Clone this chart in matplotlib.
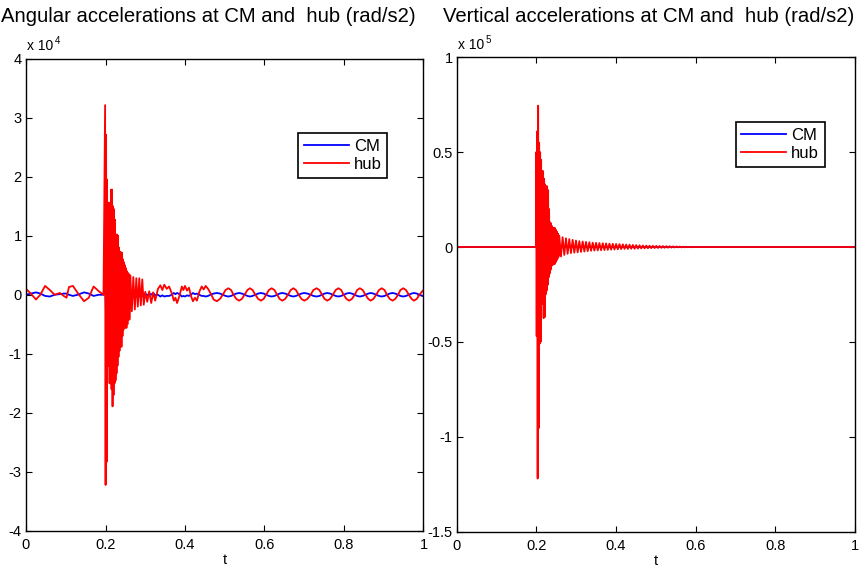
import matplotlib
matplotlib.use('Agg')
import matplotlib.pyplot as plt

plt.rcParams['font.family'] = ['Liberation Sans', 'DejaVu Sans']

# ======================= DATA =======================
# Left panel: angular accelerations (values in units of 1e4 rad/s2)
ang_pre_t = [0.0, 0.012, 0.025, 0.036, 0.048, 0.060, 0.072, 0.085, 0.095, 0.102,
             0.108, 0.118, 0.130, 0.146, 0.158, 0.170, 0.183, 0.195]
ang_pre_hub = [0.10, 0.02, -0.08, 0.00, 0.15, 0.08, 0.00, 0.03, -0.02, -0.05,
               0.13, 0.15, 0.03, -0.11, -0.05, 0.14, 0.06, 0.00]
ang_pre_cm = [0.00, 0.02, 0.04, 0.02, -0.02, -0.03, 0.00, 0.01, 0.02, 0.02,
              0.00, -0.02, 0.00, 0.04, 0.02, -0.02, 0.00, 0.00]

# dense impact burst of the hub signal (upper / lower swing per step)
ang_burst_t0 = 0.199
ang_burst_dt = 0.0025
ang_burst_hub_up = [3.21, 2.71, 1.95, 1.56, 1.56, 1.55, 1.78, 1.78, 1.50, 1.45,
                    1.27, 1.02, 1.02, 1.00, 0.80, 0.73, 0.72, 0.71, 0.60, 0.55,
                    0.50, 0.45, 0.40, 0.37, 0.35]
ang_burst_hub_lo = [-3.22, -2.83, -1.16, -1.20, -1.50, -1.50, -1.60, -1.89, -1.70, -1.50,
                    -1.45, -1.33, -1.20, -1.05, -0.95, -0.88, -0.88, -0.70, -0.59, -0.55,
                    -0.56, -0.56, -0.50, -0.42, -0.42]
ang_rip_t0 = 0.2625
ang_rip_dt = 0.0075
ang_rip_hub_up = [0.33, 0.30, 0.28, 0.28, 0.26]
ang_rip_hub_lo = [-0.28, -0.25, -0.20, -0.18, -0.17]

ang_burst_cm_t0 = 0.199
ang_burst_cm_dt = 0.005
ang_burst_cm_up = [0.25, 0.12, 0.10, 0.09, 0.08, 0.07, 0.06, 0.06, 0.05, 0.05,
                   0.05, 0.04, 0.04, 0.04, 0.04, 0.03, 0.03, 0.03, 0.03, 0.03]
ang_burst_cm_lo = [-0.40, -0.15, -0.12, -0.10, -0.09, -0.08, -0.07, -0.06, -0.06, -0.05,
                   -0.05, -0.05, -0.04, -0.04, -0.04, -0.04, -0.03, -0.03, -0.03, -0.03]

ang_post_t = [0.300, 0.305, 0.310, 0.315, 0.320, 0.325, 0.332, 0.338, 0.343, 0.348,
              0.354, 0.360, 0.367, 0.372, 0.376, 0.380, 0.386, 0.392, 0.396, 0.400,
              0.405, 0.410, 0.415, 0.420, 0.425, 0.430, 0.436, 0.442, 0.447, 0.452,
              0.458, 0.464, 0.472, 0.480, 0.488, 0.495, 0.502, 0.509, 0.516, 0.522,
              0.529, 0.536, 0.543, 0.550, 0.557, 0.5635, 0.570, 0.577, 0.584, 0.591,
              0.598, 0.604, 0.611, 0.618, 0.625, 0.632, 0.638, 0.645, 0.652, 0.659,
              0.666, 0.6725, 0.679, 0.686, 0.693, 0.700, 0.708, 0.716, 0.723, 0.731,
              0.738, 0.745, 0.751, 0.758, 0.765, 0.772, 0.779, 0.786, 0.793, 0.799,
              0.806, 0.813, 0.820, 0.827, 0.833, 0.840, 0.847, 0.854, 0.861, 0.867,
              0.874, 0.881, 0.888, 0.895, 0.902, 0.908, 0.915, 0.922, 0.929, 0.936,
              0.942, 0.949, 0.956, 0.963, 0.970, 0.976, 0.983, 0.990, 0.997, 1.000]
ang_post_hub = [0.05, -0.12, 0.06, -0.14, 0.04, -0.10, 0.10, 0.16, 0.08, 0.17,
                0.10, 0.14, 0.02, -0.10, -0.05, -0.14, -0.02, 0.14, 0.08, 0.15,
                0.07, 0.12, -0.02, -0.11, -0.05, -0.10, 0.05, 0.14, 0.09, 0.15,
                0.10, 0.03, -0.08, -0.11, -0.07, 0.00, 0.08, 0.11, 0.08, 0.00,
                -0.07, -0.10, -0.07, 0.00, 0.08, 0.11, 0.08, 0.00, -0.07, -0.10,
                -0.07, 0.00, 0.08, 0.11, 0.08, 0.00, -0.07, -0.10, -0.07, 0.00,
                0.08, 0.11, 0.08, 0.00, -0.07, -0.10, -0.07, 0.00, 0.08, 0.11,
                0.08, 0.00, -0.07, -0.10, -0.07, 0.00, 0.08, 0.11, 0.08, 0.00,
                -0.07, -0.10, -0.07, 0.00, 0.08, 0.11, 0.08, 0.00, -0.07, -0.10,
                -0.07, 0.00, 0.08, 0.11, 0.08, 0.00, -0.07, -0.10, -0.07, 0.00,
                0.08, 0.11, 0.08, 0.00, -0.07, -0.10, -0.07, 0.00, 0.06, 0.08]
ang_post_cm = [0.02, -0.01, 0.02, 0.00, 0.03, -0.01, 0.00, -0.03, -0.01, -0.03,
               -0.02, -0.02, 0.00, 0.03, 0.01, 0.03, 0.01, -0.03, -0.02, -0.03,
               -0.01, -0.02, 0.00, 0.03, 0.01, 0.02, 0.00, -0.02, -0.02, -0.03,
               -0.02, 0.00, 0.02, 0.03, 0.02, 0.00, -0.02, -0.03, -0.02, 0.00,
               0.02, 0.03, 0.02, 0.00, -0.02, -0.03, -0.02, 0.00, 0.02, 0.03,
               0.02, 0.00, -0.02, -0.03, -0.02, 0.00, 0.02, 0.03, 0.02, 0.00,
               -0.02, -0.03, -0.02, 0.00, 0.02, 0.03, 0.02, 0.00, -0.02, -0.03,
               -0.02, 0.00, 0.02, 0.03, 0.02, 0.00, -0.02, -0.03, -0.02, 0.00,
               0.02, 0.03, 0.02, 0.00, -0.02, -0.03, -0.02, 0.00, 0.02, 0.03,
               0.02, 0.00, -0.02, -0.03, -0.02, 0.00, 0.02, 0.03, 0.02, 0.00,
               -0.02, -0.03, -0.02, 0.00, 0.02, 0.03, 0.02, 0.00, -0.02, -0.02]

# Right panel: vertical accelerations (values in units of 1e5)
ver_cm_t = [0.0, 1.0]
ver_cm = [0.0, 0.0]
ver_pre_t = [0.0, 0.199]
ver_pre_hub = [0.0, 0.0]
ver_burst_t0 = 0.1995
ver_burst_dt = 0.0025
ver_burst_hub_up = [0.50, 0.61, 0.745, 0.55, 0.50, 0.46, 0.40, 0.40, 0.36, 0.33,
                    0.32, 0.32, 0.30, 0.20, 0.13, 0.125, 0.11, 0.10, 0.10, 0.10,
                    0.09, 0.08, 0.07]
ver_burst_hub_lo = [-0.47, -1.22, -0.955, -0.51, -0.50, -0.26, -0.30, -0.375, -0.37, -0.25,
                    -0.23, -0.20, -0.16, -0.14, -0.12, -0.10, -0.095, -0.09, -0.09, -0.08,
                    -0.07, -0.06, -0.05]
ver_rip_t0 = 0.2575
ver_rip_dt = 0.0084
ver_rip_hub_up = [0.060, 0.052, 0.046, 0.042, 0.038, 0.034, 0.031, 0.029, 0.027, 0.025,
                  0.023, 0.022, 0.021, 0.020, 0.019, 0.018, 0.017, 0.016, 0.015, 0.014,
                  0.013, 0.012, 0.011, 0.010, 0.009, 0.008, 0.0075, 0.007, 0.0065, 0.006,
                  0.0055, 0.005, 0.0045, 0.004, 0.0035, 0.003, 0.0025, 0.002, 0.0015, 0.001]
ver_rip_hub_lo = [-0.050, -0.042, -0.036, -0.032, -0.030, -0.028, -0.026, -0.024, -0.022, -0.020,
                  -0.019, -0.018, -0.017, -0.016, -0.015, -0.014, -0.013, -0.012, -0.011, -0.010,
                  -0.010, -0.009, -0.009, -0.008, -0.0075, -0.007, -0.0065, -0.006, -0.0055, -0.005,
                  -0.0045, -0.004, -0.0035, -0.003, -0.0025, -0.002, -0.002, -0.0015, -0.001, -0.001]
ver_post_t = [0.595, 1.0]
ver_post_hub = [0.0, 0.0]

# labels
titles = ['Angular accelerations at CM and  hub (rad/s2)',
          'Vertical accelerations at CM and  hub (rad/s2)']
legend_labels = ['CM', 'hub']
x_ticks = [0, 0.2, 0.4, 0.6, 0.8, 1]
x_ticklabels = ['0', '0.2', '0.4', '0.6', '0.8', '1']
ang_yticks = [-4, -3, -2, -1, 0, 1, 2, 3, 4]
ang_yticklabels = ['-4', '-3', '-2', '-1', '0', '1', '2', '3', '4']
ver_yticks = [-1.5, -1, -0.5, 0, 0.5, 1]
ver_yticklabels = ['-1.5', '-1', '-0.5', '0', '0.5', '1']
exponents = ['4', '5']


def interleave(t0, dt, up, lo):
    t, v = [], []
    for i, (u, l) in enumerate(zip(up, lo)):
        t += [t0 + i * dt, t0 + (i + 0.5) * dt]
        v += [u, l]
    return t, v


# assemble series
bt, bv = interleave(ang_burst_t0, ang_burst_dt, ang_burst_hub_up, ang_burst_hub_lo)
rt, rv = interleave(ang_rip_t0, ang_rip_dt, ang_rip_hub_up, ang_rip_hub_lo)
ang_hub_t = ang_pre_t + bt + rt + ang_post_t
ang_hub_v = ang_pre_hub + bv + rv + ang_post_hub
ct, cv = interleave(ang_burst_cm_t0, ang_burst_cm_dt, ang_burst_cm_up, ang_burst_cm_lo)
ang_cm_t = ang_pre_t + ct + ang_post_t
ang_cm_v = ang_pre_cm + cv + ang_post_cm

vbt, vbv = interleave(ver_burst_t0, ver_burst_dt, ver_burst_hub_up, ver_burst_hub_lo)
vrt, vrv = interleave(ver_rip_t0, ver_rip_dt, ver_rip_hub_up, ver_rip_hub_lo)
ver_hub_t = ver_pre_t + vbt + vrt + ver_post_t
ver_hub_v = ver_pre_hub + vbv + vrv + ver_post_hub

# ======================= FIGURE =======================
W, H = 867, 569
fig = plt.figure(figsize=(W / 100, H / 100), dpi=100)

def px_axes(x0, y0, x1, y1):
    return fig.add_axes([x0 / W, 1 - y1 / H, (x1 - x0) / W, (y1 - y0) / H])

ax1 = px_axes(26, 58.5, 423.5, 531)
ax2 = px_axes(456.7, 57.3, 855, 531.6)

panels = [
    (ax1, ang_cm_t, ang_cm_v, ang_hub_t, ang_hub_v, (-4, 4), ang_yticks, ang_yticklabels,
     (0.684, 0.843)),
    (ax2, ver_cm_t, ver_cm, ver_hub_t, ver_hub_v, (-1.5, 1), ver_yticks, ver_yticklabels,
     (0.700, 0.864)),
]

for k, (ax, ct_, cv_, ht_, hv_, ylim, yt, ytl, legpos) in enumerate(panels):
    ax.plot(ct_, cv_, color='#0000ff', lw=1.3, label=legend_labels[0])
    ax.plot(ht_, hv_, color='#ff0000', lw=1.3, label=legend_labels[1])
    ax.set_xlim(0, 1)
    ax.set_ylim(*ylim)
    ax.set_xticks(x_ticks)
    ax.set_xticklabels(x_ticklabels)
    ax.set_yticks(yt)
    ax.set_yticklabels(ytl)
    ax.tick_params(direction='in', top=True, right=True, length=4, width=0.8,
                   labelsize=10.5, colors='black')
    ax.tick_params(axis='y', pad=3)
    ax.tick_params(axis='x', pad=5)
    for s in ax.spines.values():
        s.set_linewidth(1.0)
        s.set_color('black')
    ax.set_xlabel('t', fontsize=10.5, labelpad=1)
    leg = ax.legend(loc='upper left', bbox_to_anchor=legpos, borderaxespad=0,
                    fancybox=False, framealpha=1, edgecolor='black', fontsize=12,
                    handlelength=2.7, handletextpad=0.3, borderpad=0.35,
                    labelspacing=0.2)
    leg.get_frame().set_linewidth(1.2)
    # exponent annotation
    ax.annotate('x 10', xy=(0, 1), xycoords='axes fraction', xytext=(0.8, 6),
                textcoords='offset points', fontsize=10, ha='left', va='baseline')
    ax.annotate(exponents[k], xy=(0, 1), xycoords='axes fraction', xytext=(20.5, 10.5),
                textcoords='offset points', fontsize=7, ha='left', va='baseline')

fig.text(1 / W, 1 - 22 / H, titles[0], fontsize=14.6, ha='left', va='baseline')
fig.text(443 / W, 1 - 22 / H, titles[1], fontsize=14.6, ha='left', va='baseline')

fig.savefig('out.png', dpi=100)
